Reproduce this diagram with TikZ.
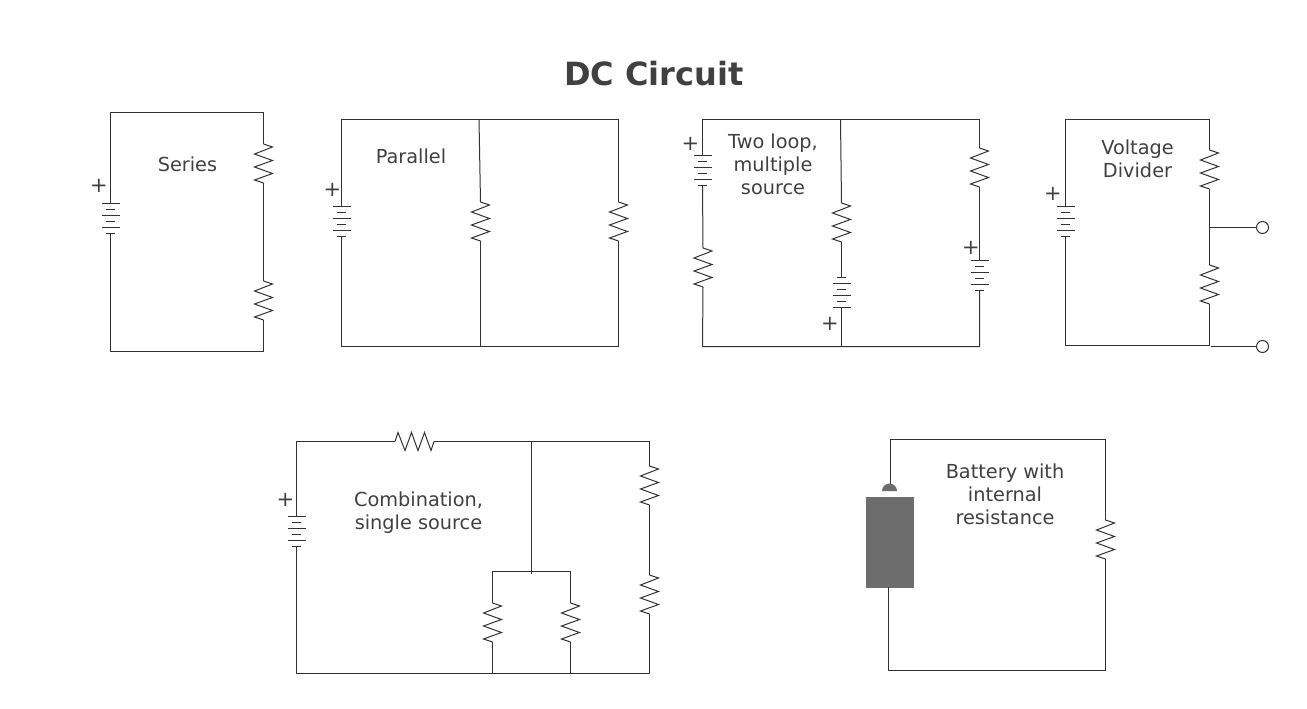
\documentclass[tikz,border=0pt]{standalone}
\usepackage{fontspec}
\setmainfont{DejaVu Sans}
\definecolor{wirecol}{HTML}{333333}
\definecolor{textcol}{HTML}{404040}
\definecolor{cellcol}{HTML}{6D6D6D}
\tikzset{
  wire/.style={draw=wirecol,line width=1pt,line join=miter},
  lbl/.style={text=textcol,font=\fontsize{19.3}{23}\selectfont,align=center,inner sep=0pt},
  plus/.style={text=textcol,font=\fontsize{21}{23}\selectfont,inner sep=0pt},
  titlelbl/.style={text=textcol,font=\fontsize{32}{38}\selectfont\bfseries,inner sep=0pt},
  term/.style={circle,draw=wirecol,line width=1pt,fill=white,minimum size=12pt,inner sep=0pt},
  resistor/.pic={
    \coordinate (-a) at (0,0);
    \coordinate (-b) at (0,39);
    \draw[wire] (0,0) -- (9,3) -- (-9,10) -- (9,16.5) -- (-9,23) -- (9,29.5) -- (-9,36) -- (0,39);
  },
  cell/.pic={
    \coordinate (-a) at (0,0);
    \coordinate (-b) at (0,30);
    \draw[wire] (-9,0) -- (9,0);
    \draw[wire] (-4.5,6) -- (4.5,6);
    \draw[wire] (-9,12) -- (9,12);
    \draw[wire] (-4.5,18) -- (4.5,18);
    \draw[wire] (-9,24) -- (9,24);
    \draw[wire] (-4.5,30) -- (4.5,30);
  },
  cellflip/.pic={
    \coordinate (-a) at (0,0);
    \coordinate (-b) at (0,30);
    \draw[wire] (-4.5,0) -- (4.5,0);
    \draw[wire] (-9,6) -- (9,6);
    \draw[wire] (-4.5,12) -- (4.5,12);
    \draw[wire] (-9,18) -- (9,18);
    \draw[wire] (-4.5,24) -- (4.5,24);
    \draw[wire] (-9,30) -- (9,30);
  },
}
\begin{document}
\begin{tikzpicture}[x=1pt,y=-1pt]
\useasboundingbox (0,0) rectangle (1307,709);
\node[titlelbl] (title) at (654,74) {DC Circuit};

% Series
\node[lbl] (lseries) at (187.5,164) {Series};
\node[plus] (pa) at (99,186) {+};
\pic (ab) at (110.5,203) {cell};
\pic (ar1) at (263.5,144) {resistor};
\pic (ar2) at (263.5,281) {resistor};
\coordinate (atl) at (110.5,112.5);
\coordinate (atr) at (263.5,112.5);
\coordinate (abr) at (263.5,351.5);
\coordinate (abl) at (110.5,351.5);
\draw[wire] (ab-a) -- (atl) -- (atr) -- (ar1-a);
\draw[wire] (ar1-b) -- (ar2-a);
\draw[wire] (ar2-b) -- (abr) -- (abl) -- (ab-b);

% Parallel
\node[lbl] (lpar) at (411,156) {Parallel};
\node[plus] (pb) at (332.5,189.5) {+};
\pic (bb) at (341.5,206) {cell};
\pic (br1) at (480.5,202) {resistor};
\pic (br2) at (618.5,202) {resistor};
\coordinate (btl) at (341.5,119.5);
\coordinate (btm) at (479,119.5);
\coordinate (btr) at (618.5,119.5);
\coordinate (bbr) at (618.5,346.5);
\coordinate (bbm) at (480.5,346.5);
\coordinate (bbl) at (341.5,346.5);
\draw[wire] (bb-a) -- (btl) -- (btr) -- (br2-a);
\draw[wire] (br2-b) -- (bbr) -- (bbl) -- (bb-b);
\draw[wire] (btm) -- (br1-a);
\draw[wire] (br1-b) -- (bbm);

% Two loop
\node[lbl] (ltwo) at (773,164) {Two loop,\\multiple\\source};
\node[plus] (pc1) at (690.5,144) {+};
\node[plus] (pc2) at (830,323.5) {+};
\node[plus] (pc3) at (971,248) {+};
\pic (cb1) at (702.5,155) {cell};
\pic (cr1) at (703,248) {resistor};
\pic (cr2) at (841.5,203) {resistor};
\pic (cb2) at (841.5,277) {cellflip};
\pic (cr3) at (979.5,148) {resistor};
\pic (cb3) at (979.5,260) {cell};
\coordinate (ctl) at (702.5,119.5);
\coordinate (ctm) at (840.5,119.5);
\coordinate (ctr) at (979.5,119.5);
\coordinate (cbr) at (979.5,346.5);
\coordinate (cbm) at (841.5,346.5);
\coordinate (cbl) at (702.5,346.5);
\draw[wire] (cb1-a) -- (ctl) -- (ctr) -- (cr3-a);
\draw[wire] (cr3-b) -- (cb3-a);
\draw[wire] (cb3-b) -- (cbr) -- (cbl) -- (cr1-b);
\draw[wire] (cb1-b) -- (cr1-a);
\draw[wire] (ctm) -- (cr2-a);
\draw[wire] (cr2-b) -- (cb2-a);
\draw[wire] (cb2-b) -- (cbm);

% Voltage divider
\node[lbl] (lvd) at (1137.5,158.5) {Voltage\\Divider};
\node[plus] (pd) at (1053,193.5) {+};
\pic (db) at (1065.5,206) {cell};
\pic (dr1) at (1209.5,150) {resistor};
\pic (dr2) at (1209.5,265) {resistor};
\node[term] (dt1) at (1262.5,227.5) {};
\node[term] (dt2) at (1262.5,346.5) {};
\coordinate (dtl) at (1065.5,119.5);
\coordinate (dtr) at (1209.5,119.5);
\coordinate (dtap) at (1209.5,227.5);
\coordinate (dbr) at (1209.5,345.5);
\coordinate (dbl) at (1065.5,345.5);
\coordinate (dbo) at (1211,346.5);
\draw[wire] (db-a) -- (dtl) -- (dtr) -- (dr1-a);
\draw[wire] (dr1-b) -- (dr2-a);
\draw[wire] (dr2-b) -- (dbr) -- (dbl) -- (db-b);
\draw[wire] (dtap) -- (dt1);
\draw[wire] (dbo) -- (dt2);

% Combination
\node[lbl] (lcomb) at (418.5,513) {Combination,\\single source};
\node[plus] (pe) at (285.5,499.5) {+};
\pic (eb) at (296.5,516) {cell};
\pic[rotate=90] (er0) at (395,441.5) {resistor};
\pic (er1) at (649.5,466) {resistor};
\pic (er2) at (649.5,575) {resistor};
\pic (er3) at (492.5,603) {resistor};
\pic (er4) at (570.5,603) {resistor};
\coordinate (etl) at (296.5,441.5);
\coordinate (etm) at (531.5,441.5);
\coordinate (etr) at (649.5,441.5);
\coordinate (ebr) at (649.5,673.5);
\coordinate (ebl) at (296.5,673.5);
\coordinate (ejn) at (531.5,574);
\coordinate (eil) at (492.5,571.5);
\coordinate (eir) at (570.5,571.5);
\coordinate (ebm1) at (492.5,673.5);
\coordinate (ebm2) at (570.5,673.5);
\draw[wire] (eb-a) -- (etl) -- (er0-a);
\draw[wire] (er0-b) -- (etr) -- (er1-a);
\draw[wire] (er1-b) -- (er2-a);
\draw[wire] (er2-b) -- (ebr) -- (ebl) -- (eb-b);
\draw[wire] (etm) -- (ejn);
\draw[wire] (er3-a) -- (eil) -- (eir) -- (er4-a);
\draw[wire] (er3-b) -- (ebm1);
\draw[wire] (er4-b) -- (ebm2);

% Battery with internal resistance
\node[lbl] (lbat) at (1005,494) {Battery with\\internal\\resistance};
\node[draw=none,fill=cellcol,minimum width=48pt,minimum height=90.5pt,inner sep=0pt,anchor=north west] (fcell) at (866,497) {};
\fill[cellcol] (882,491) arc[start angle=180,end angle=360,radius=7.5] -- cycle;
\coordinate (fcap) at (890.5,484);
\coordinate (fout) at (888.5,587);
\pic (fr) at (1105.5,520) {resistor};
\coordinate (ftl) at (890.5,439.5);
\coordinate (ftr) at (1105.5,439.5);
\coordinate (fbr) at (1105.5,670.5);
\coordinate (fbl) at (888.5,670.5);
\draw[wire] (fcap) -- (ftl) -- (ftr) -- (fr-a);
\draw[wire] (fr-b) -- (fbr) -- (fbl) -- (fout);
\end{tikzpicture}
\end{document}
